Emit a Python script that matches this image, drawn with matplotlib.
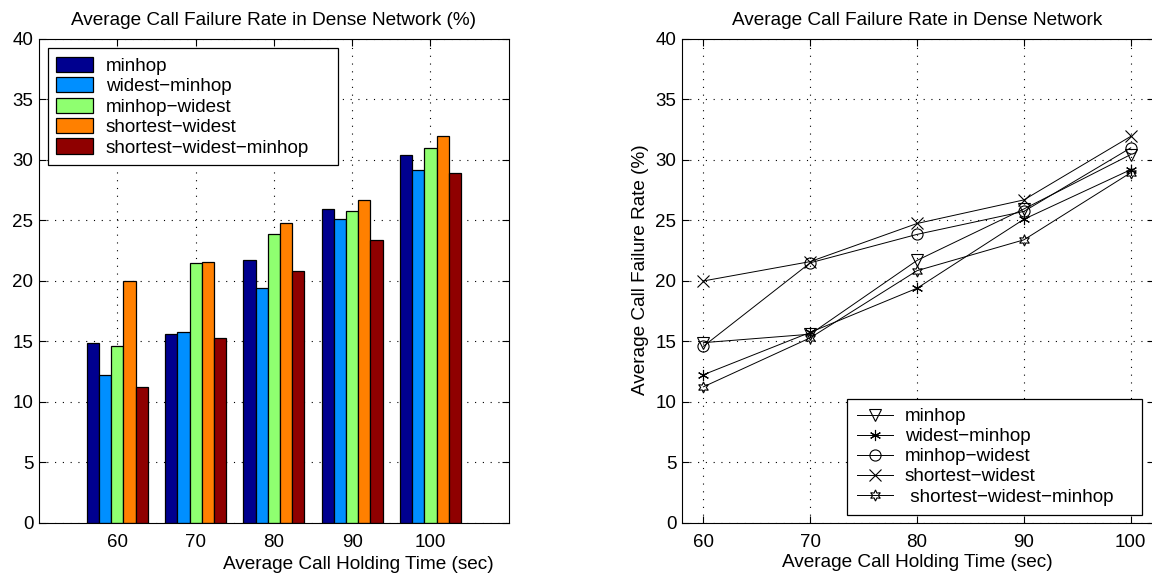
import matplotlib
matplotlib.use("Agg")
import matplotlib.pyplot as plt
import numpy as np

plt.rcParams['font.family'] = ['Liberation Sans', 'DejaVu Sans']
plt.rcParams['font.size'] = 13.5

# data
holding_time = [60, 70, 80, 90, 100]
series_names = ["minhop", "widest\u2212minhop", "minhop\u2212widest",
                "shortest\u2212widest", "shortest\u2212widest\u2212minhop"]
minhop = [14.9, 15.6, 21.7, 25.95, 30.45]
widest_minhop = [12.25, 15.75, 19.4, 25.1, 29.2]
minhop_widest = [14.6, 21.5, 23.85, 25.75, 31.0]
shortest_widest = [20.0, 21.6, 24.75, 26.7, 31.95]
shortest_widest_minhop = [11.25, 15.3, 20.85, 23.4, 28.95]
all_series = [minhop, widest_minhop, minhop_widest, shortest_widest, shortest_widest_minhop]

bar_colors = ["#00008F", "#008FFF", "#8FFF70", "#FF8000", "#8F0000"]
line_markers = ["v", (6, 2, 0), "o", "x", (6, 1, 0)]
grid_style = dict(linestyle=(0, (1, 6)), color="black", linewidth=0.8)

fig = plt.figure(figsize=(11.52, 5.78), dpi=100)

########################################
# left: grouped bars
ax1 = fig.add_axes([0.0339, 0.0952, 0.4077, 0.8374])
base = np.arange(1, len(holding_time) + 1)
n = len(all_series)
width = 0.78 / n
for i, (vals, col, name) in enumerate(zip(all_series, bar_colors, series_names)):
    xs = base - 0.39 + width * (i + 0.5)
    ax1.bar(xs, vals, width=width, color=col, edgecolor="black", linewidth=0.9, label=name)

ax1.set_xlim(0, 6)
ax1.set_ylim(0, 40)
ax1.set_xticks(base)
ax1.set_xticklabels([str(t) for t in holding_time])
ax1.set_yticks(range(0, 41, 5))
ax1.grid(True, **grid_style)
ax1.set_axisbelow(True)
ax1.tick_params(axis="x", direction="in", top=True, length=5, pad=8)
ax1.tick_params(axis="y", direction="in", right=True, length=5, pad=4)
ax1.set_title("Average Call Failure Rate in Dense Network (%)", fontsize=13.7, pad=10)
ax1.set_xlabel("Average Call Holding Time (sec)", fontsize=13.7)
ax1.xaxis.set_label_coords(0.679, -0.068)
leg1 = ax1.legend(loc="upper left", bbox_to_anchor=(0.019, 0.5, 0.617, 0.481), mode="expand",
                  borderaxespad=0, fontsize=13.6, fancybox=False, edgecolor="black",
                  framealpha=1, handlelength=1.95, handleheight=0.87, labelspacing=0.12,
                  borderpad=0.45, handletextpad=0.65)
leg1.get_frame().set_linewidth(0.9)

########################################
# right: lines with markers
ax2 = fig.add_axes([0.592, 0.0952, 0.4095, 0.8374])
for vals, mk, name in zip(all_series, line_markers, series_names):
    label = name if name != series_names[-1] else " " + name
    ax2.plot(holding_time, vals, color="black", linewidth=0.7, marker=mk,
             markersize=8, markerfacecolor="none", markeredgecolor="black",
             markeredgewidth=0.8, label=label)

ax2.set_xlim(58, 102.15)
ax2.set_ylim(0, 40)
ax2.set_xticks(holding_time)
ax2.set_yticks(range(0, 41, 5))
ax2.grid(True, **grid_style)
ax2.tick_params(axis="x", direction="in", top=True, length=5, pad=8)
ax2.tick_params(axis="y", direction="in", right=True, length=5, pad=4)
ax2.set_title("Average Call Failure Rate in Dense Network", fontsize=13.7, pad=10, x=0.498)
ax2.set_xlabel("Average Call Holding Time (sec)", fontsize=13.7)
ax2.xaxis.set_label_coords(0.498, -0.064)
ax2.set_ylabel("Average Call Failure Rate (%)", fontsize=13.7)
ax2.yaxis.set_label_coords(-0.07, 0.523)
leg2 = ax2.legend(loc="lower left", bbox_to_anchor=(0.35, 0.0165, 0.626, 0.25), mode="expand",
                  borderaxespad=0, fontsize=13.6, fancybox=False, edgecolor="black",
                  framealpha=1, numpoints=1, handlelength=1.95, labelspacing=0.15,
                  borderpad=0.5, handletextpad=0.6)
leg2.get_frame().set_linewidth(0.9)

fig.savefig("out.png", dpi=100)
